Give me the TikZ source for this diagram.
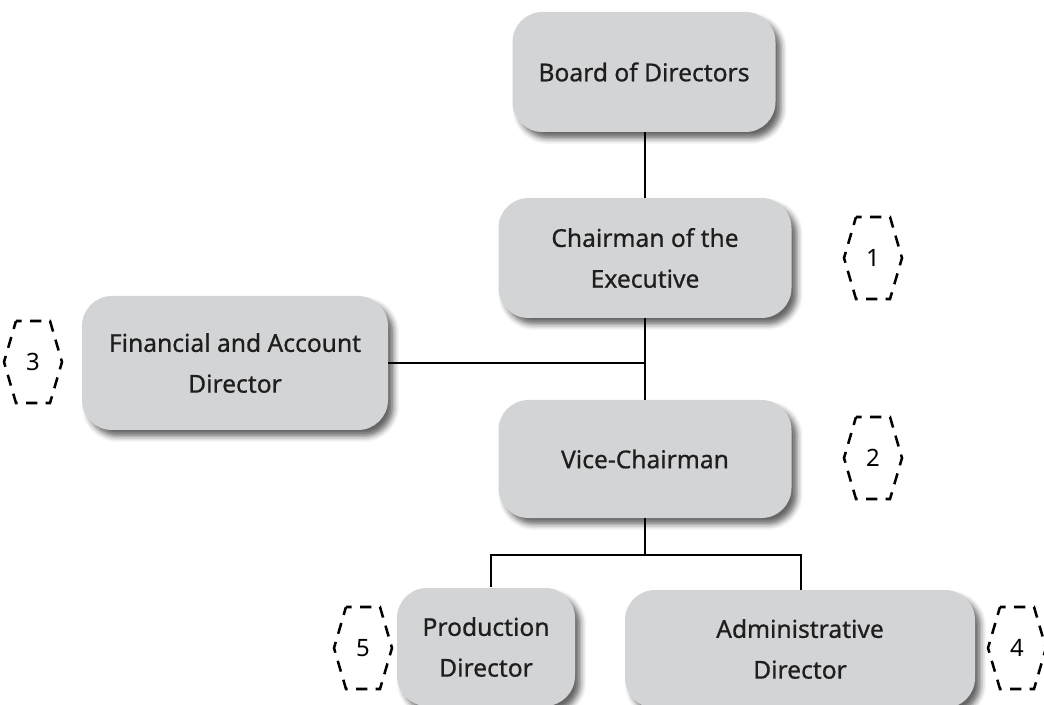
\documentclass[tikz,border=0pt]{standalone}
\usepackage{fontspec}
\setmainfont{Noto Sans}
\newfontfamily\postfont{Noto Sans}[FakeBold=0.7]
\usetikzlibrary{positioning,shadows.blur}

\definecolor{boxgray}{HTML}{D3D4D6}
\definecolor{inkgray}{HTML}{1E1E1E}

\tikzset{
    post/.style={rounded corners=0.75cm, fill=boxgray, align=center,
        inner sep=0pt, text=inkgray, font=\postfont\fontsize{17.5}{29}\selectfont,
        blur shadow={shadow xshift=0.14cm, shadow yshift=-0.16cm,
            shadow opacity=60, shadow blur radius=0.14cm}},
    link/.style={line width=1pt, black},
    tag/.style={font=\fontsize{17}{20}\selectfont, inner sep=0pt},
    hexline/.style={line width=1.8pt, dash pattern=on 8pt off 6pt,
        dash phase=4pt, line join=miter}
}

\begin{document}
\begin{tikzpicture}[x=0.025cm,y=0.025cm]
    \useasboundingbox (0,0) rectangle (1044,704);

    % posts
    \node[post, minimum width=263*0.025cm, minimum height=120*0.025cm]
        (board) at (644,632) {Board of Directors};
    \node[post, minimum width=293*0.025cm, minimum height=120*0.025cm]
        (chair) at (645,446) {Chairman of the\\Executive};
    \node[post, minimum width=306*0.025cm, minimum height=134*0.025cm]
        (fin) at (235,341) {Financial and Account\\Director};
    \node[post, minimum width=293*0.025cm, minimum height=118*0.025cm]
        (vice) at (645,245) {Vice-Chairman};
    \node[post, minimum width=178*0.025cm, minimum height=118*0.025cm]
        (prod) at (486,57) {Production\\Director};
    \node[post, minimum width=350*0.025cm, minimum height=118*0.025cm]
        (admin) at (800,55) {Administrative\\Director};

    % connecting lines
    \coordinate (split) at (645,149);
    \coordinate (prodtop) at (491,117);
    \coordinate (admintop) at (801,114);
    \draw[link] (chair.north) -- (board.south -| chair.north);
    \draw[link] (vice.north) -- (chair.south);
    \draw[link] (fin.east) -- (fin.east -| chair.south);
    \draw[link] (vice.south) -- (split);
    \draw[link] (prodtop) |- (split) -| (admintop);

    % numbered hexagon tags
    \foreach \n/\x/\y in {1/873/446, 2/873/246, 3/33/342, 4/1017/56, 5/363/56} {
        \node[tag] (tag\n) at (\x,\y) {\n};
        \draw[hexline] (tag\n) ++(-17,41) -- ++(34,0) -- ++(12,-41)
            -- ++(-12,-41) -- ++(-34,0) -- ++(-12,41) -- cycle;
    }
\end{tikzpicture}
\end{document}
